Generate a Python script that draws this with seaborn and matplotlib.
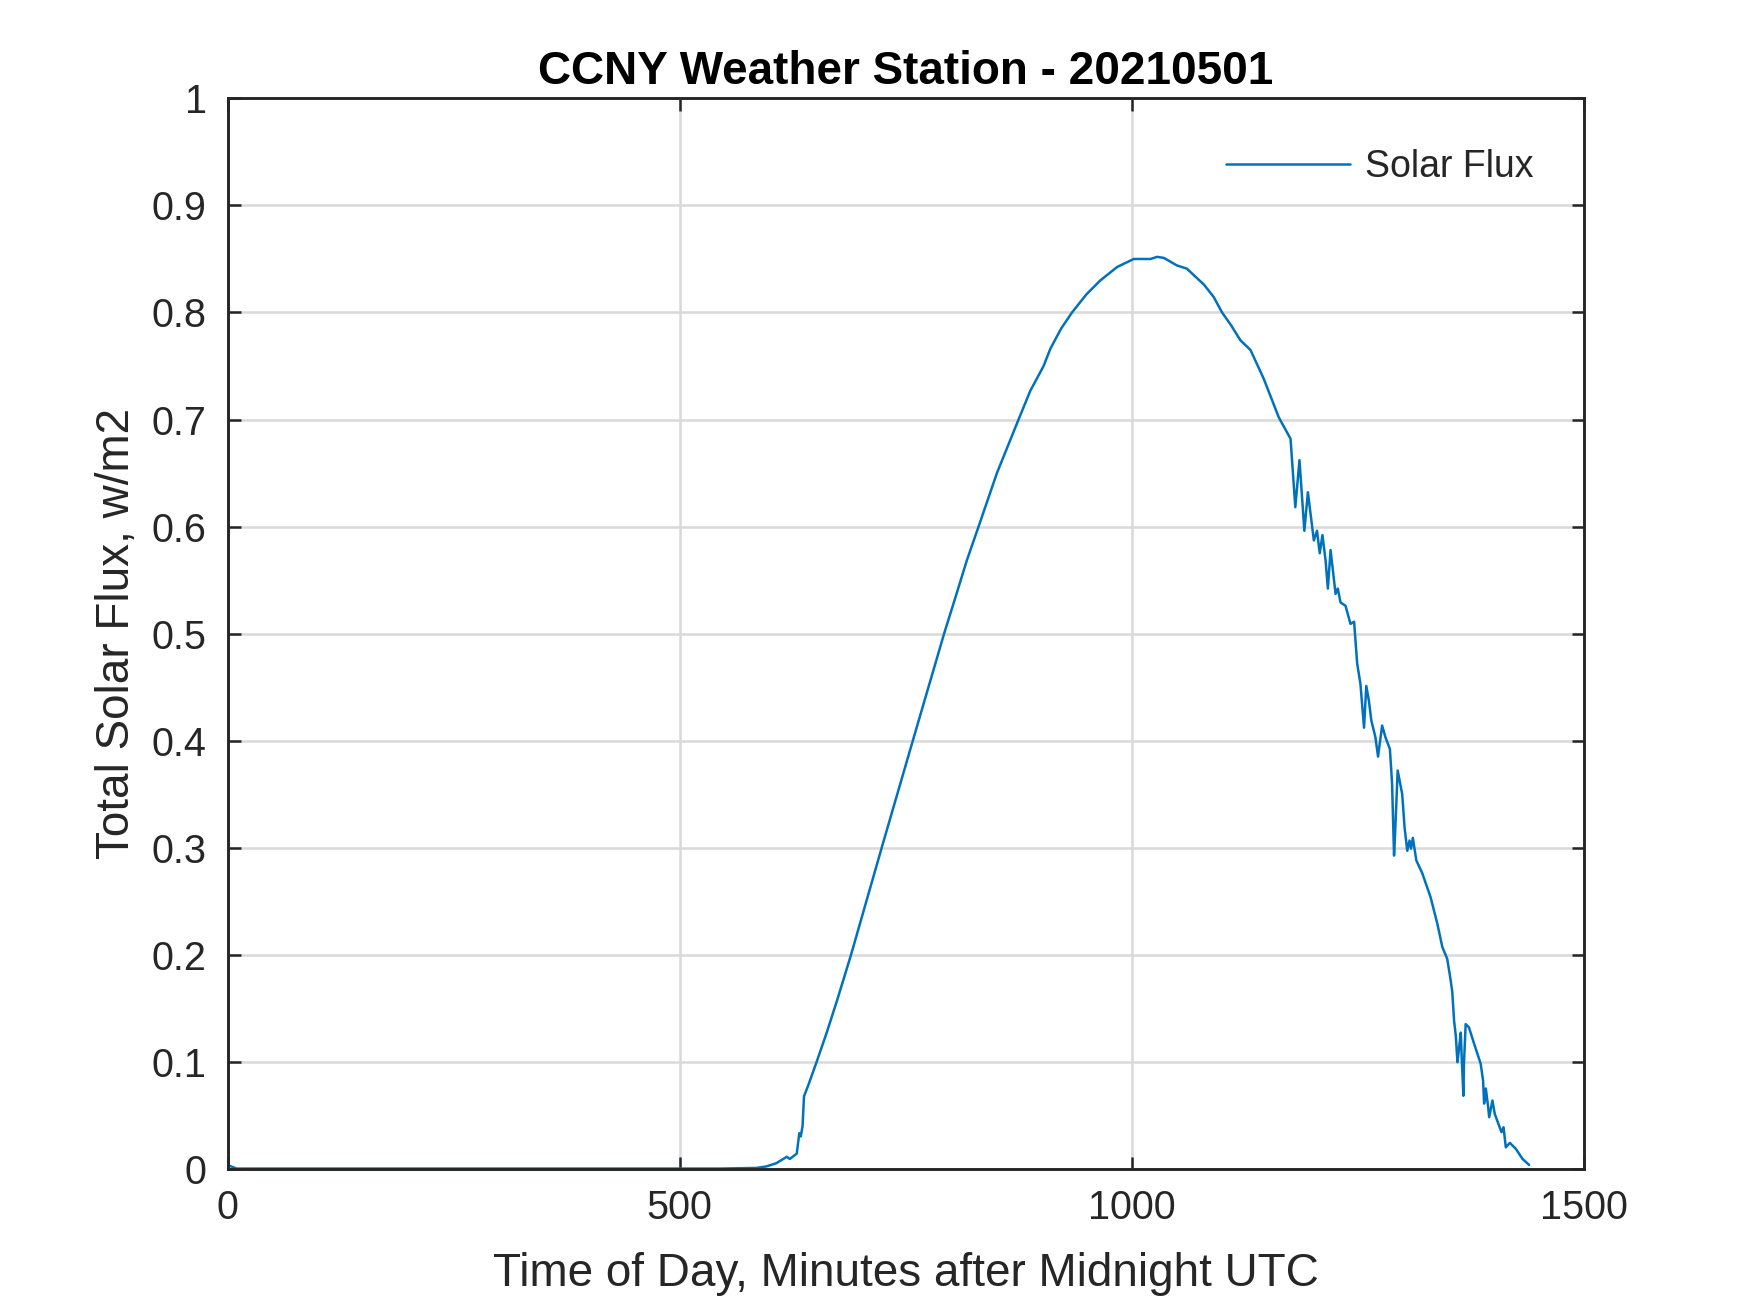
import matplotlib
matplotlib.use("Agg")
import matplotlib.pyplot as plt
import pandas as pd
import seaborn as sns

# solar flux readings
minutes = [
    0, 4, 10, 545, 585, 596, 607, 618.5, 622, 629.6, 632.4, 634, 636, 637.6,
    642.4, 651.7, 662.7, 674.5, 689.7, 723.6, 758, 792.6, 804.8, 817.8, 830.7,
    851, 874.9, 888, 902.6, 910, 922, 934, 950, 965.4, 983.9, 1002.3, 1020.8,
    1028.2, 1035.6, 1050, 1061, 1068.6, 1080, 1090.7, 1100, 1110, 1120.3,
    1131.4, 1146.1, 1162.7, 1175.7,
    1181, 1185.6, 1191, 1194.9, 1201.5, 1205, 1208, 1211, 1214.5, 1217, 1220,
    1225.5, 1228, 1231, 1236.5, 1242, 1246, 1249.4, 1253, 1257, 1259.5, 1262.4,
    1265, 1269.6, 1272.5, 1277, 1280.7, 1285.6, 1288, 1290.2, 1291.5, 1294.2,
    1299.2, 1301.8, 1304.8, 1307.3, 1309, 1311, 1314.8, 1321.4, 1330.6, 1338,
    1343.6, 1349, 1352.8, 1354.6, 1356.6, 1358.5, 1360.3, 1362, 1364, 1365,
    1366.9, 1367.5, 1369.4, 1373, 1378.6, 1386, 1388.7, 1389.8, 1391.7, 1394.3,
    1395.4, 1399, 1401.6, 1406.4, 1409, 1411.3, 1413.8, 1418.3, 1424.9, 1432.3,
    1439.6,
]
flux = [
    0.003, 0.002, 0.0, 0.0, 0.0006, 0.002, 0.005, 0.011, 0.009, 0.014, 0.033,
    0.030, 0.0395, 0.0675, 0.078, 0.100, 0.127, 0.158, 0.200, 0.300, 0.400,
    0.500, 0.533, 0.5686, 0.600, 0.650, 0.700, 0.727, 0.750, 0.766, 0.785,
    0.800, 0.817, 0.830, 0.8425, 0.850, 0.850, 0.852, 0.851, 0.844, 0.841,
    0.835, 0.826, 0.8145, 0.800, 0.788, 0.774, 0.765, 0.738, 0.702, 0.682,
    0.618, 0.662, 0.596, 0.632, 0.587,
    0.596, 0.575, 0.592, 0.568, 0.542, 0.578, 0.537, 0.542, 0.529, 0.526,
    0.509, 0.511, 0.472, 0.453, 0.412, 0.451, 0.437, 0.419, 0.403, 0.385,
    0.414, 0.403, 0.392, 0.360, 0.2925, 0.316, 0.372, 0.350, 0.319, 0.297,
    0.3065, 0.299, 0.309, 0.288, 0.276, 0.2536, 0.229, 0.207, 0.196, 0.176,
    0.165, 0.138, 0.124, 0.0994, 0.112, 0.127, 0.104, 0.068, 0.098, 0.135,
    0.132, 0.117, 0.098, 0.082, 0.0607, 0.0748, 0.0573, 0.048, 0.0636, 0.051,
    0.040, 0.034, 0.0386, 0.0199, 0.024, 0.0184, 0.009, 0.0034,
]
x_ticks = [0, 500, 1000, 1500]
y_ticks = [0, 0.1, 0.2, 0.3, 0.4, 0.5, 0.6, 0.7, 0.8, 0.9, 1]
y_tick_labels = ["0", "0.1", "0.2", "0.3", "0.4", "0.5", "0.6", "0.7", "0.8", "0.9", "1"]

df = pd.DataFrame({"Minutes": minutes, "Flux": flux})

sns.set_style("ticks")
plt.rcParams["font.family"] = ["Liberation Sans", "DejaVu Sans"]

fig = plt.figure(figsize=(1750 / 300, 1313 / 300), dpi=300)
ax = fig.add_axes([0.13, 0.11, 0.775, 0.815])

sns.lineplot(data=df, x="Minutes", y="Flux", ax=ax, color="#0072BD",
             linewidth=0.6, label="Solar Flux", estimator=None, sort=False)

ax.set_xlim(0, 1500)
ax.set_ylim(0, 1)
ax.set_xticks(x_ticks)
ax.set_yticks(y_ticks)
ax.set_yticklabels(y_tick_labels)
ax.grid(True, color="#d9d9d9", linewidth=0.6)
ax.set_axisbelow(True)
ax.tick_params(direction="in", top=True, right=True, length=3, width=0.6,
               labelsize=9.5, colors="#262626", pad=5)
for s in ax.spines.values():
    s.set_visible(True)
    s.set_linewidth(0.7)
    s.set_color("#262626")

ax.set_title("CCNY Weather Station - 20210501", fontsize=11, fontweight="bold",
             color="black", pad=3.5)
ax.set_xlabel("Time of Day, Minutes after Midnight UTC", fontsize=11,
              color="#262626", labelpad=6)
ax.set_ylabel("Total Solar Flux, w/m2", fontsize=11, color="#262626",
              labelpad=3)

leg = ax.legend(loc="upper right", frameon=False, fontsize=9,
                handlelength=3.3, handletextpad=0.4, borderaxespad=0.95)

fig.savefig("out.png", dpi=300, facecolor="white")
